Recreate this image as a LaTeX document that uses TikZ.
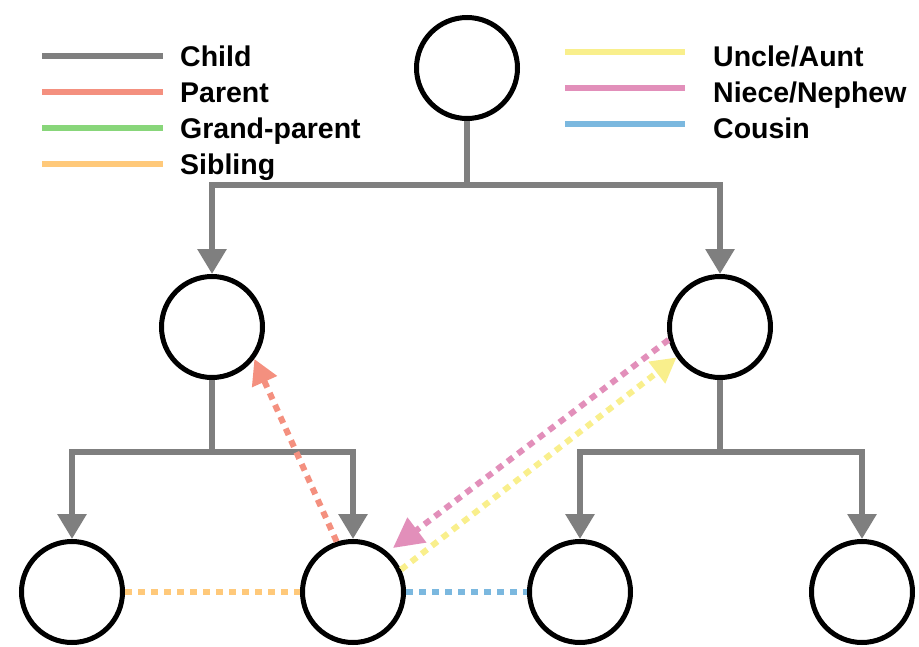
\documentclass[tikz,border=0pt]{standalone}
\usepackage{fontspec}
\setmainfont{Liberation Sans}
\usetikzlibrary{arrows.meta}

\definecolor{childgray}{HTML}{7F7F7F}
\definecolor{parentred}{HTML}{F4907F}
\definecolor{grandgreen}{HTML}{88D67A}
\definecolor{siblingorange}{HTML}{FFC97A}
\definecolor{uncleyellow}{HTML}{F9EF8C}
\definecolor{niecepink}{HTML}{E28FBA}
\definecolor{cousinblue}{HTML}{7BB8DF}

\begin{document}
\begin{tikzpicture}[x=1pt, y=-1pt,
  person/.style={circle, draw=black, line width=5pt, minimum size=101pt, inner sep=0pt, fill=white},
  childline/.style={draw=childgray, line width=6pt},
  childarrow/.style={childline, -{Triangle[length=25pt, width=28pt]}},
  relation/.style={line width=6pt, dash pattern=on 7pt off 6pt},
  legendline/.style={line width=6pt},
  legendtext/.style={anchor=base west, inner sep=0pt, font=\fontsize{28.5}{28.5}\selectfont\bfseries}
]
\useasboundingbox (0,0) rectangle (919,646);

% people
\node[person] (top) at (467,68) {};
\node[person] (l1) at (212,327) {};
\node[person] (r1) at (720,327) {};
\node[person] (b1) at (72,592) {};
\node[person] (b2) at (353,592) {};
\node[person] (b3) at (580,592) {};
\node[person] (b4) at (862,592) {};

% junctions of the family tree
\coordinate (j0) at (467,185);
\coordinate (jl) at (212,452);
\coordinate (jr) at (720,452);

% child links
\draw[childline] (top) -- (j0);
\draw[childarrow] (j0) -| (l1);
\draw[childarrow] (j0) -| (r1);
\draw[childline] (l1) -- (jl);
\draw[childarrow] (jl) -| (b1);
\draw[childarrow] (jl) -| (b2);
\draw[childline] (r1) -- (jr);
\draw[childarrow] (jr) -| (b3);
\draw[childarrow] (jr) -| (b4);

% relations of the highlighted person
\draw[relation, draw=siblingorange] (b1) -- (b2);
\draw[relation, draw=cousinblue] (b2) -- (b3);
\draw[relation, draw=parentred, -{Triangle[length=25pt, width=26pt]}] (b2.108) -- (l1.-37);
\draw[relation, draw=niecepink, -{Triangle[length=30pt, width=30pt]}] (r1.194) -- (393,548);
\draw[relation, draw=uncleyellow, -{Triangle[length=25pt, width=26pt]}] (b2.25) -- (r1.215);

% legend
\draw[legendline, childgray] (42,56) -- (163,56);
\node[legendtext] (lgchild) at (180,66) {Child};
\draw[legendline, parentred] (42,92) -- (163,92);
\node[legendtext] (lgparent) at (180,102) {Parent};
\draw[legendline, grandgreen] (42,128) -- (163,128);
\node[legendtext] (lggrand) at (180,138) {Grand-parent};
\draw[legendline, siblingorange] (42,164) -- (163,164);
\node[legendtext] (lgsibling) at (180,174) {Sibling};

\draw[legendline, uncleyellow] (565,52) -- (685,52);
\node[legendtext] (lguncle) at (713,66) {Uncle/Aunt};
\draw[legendline, niecepink] (565,88) -- (685,88);
\node[legendtext] (lgniece) at (713,102) {Niece/Nephew};
\draw[legendline, cousinblue] (565,124) -- (685,124);
\node[legendtext] (lgcousin) at (713,138) {Cousin};
\end{tikzpicture}
\end{document}
